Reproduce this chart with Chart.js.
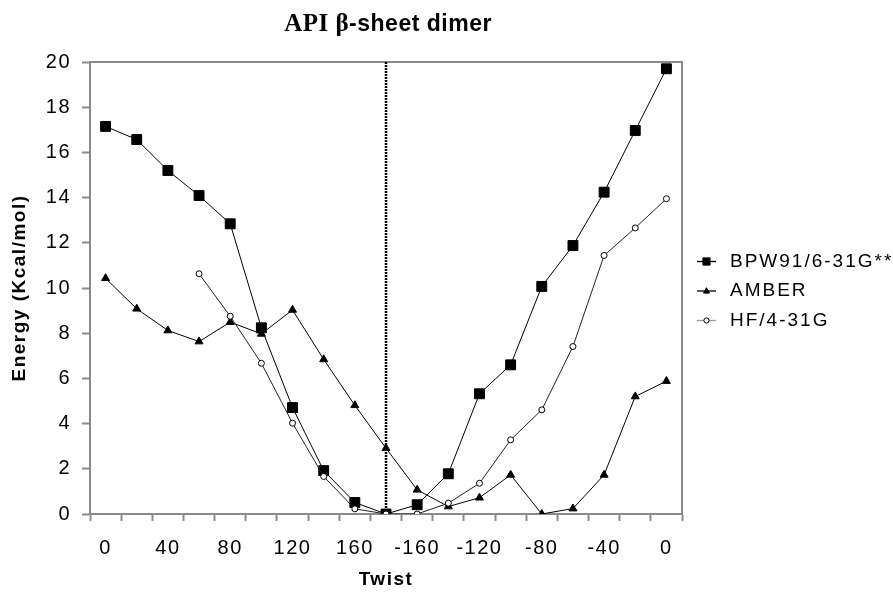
<!DOCTYPE html>
<html>
<head>
<meta charset="utf-8">
<script src="https://cdn.jsdelivr.net/npm/chart.js@4/dist/chart.umd.min.js"></script>
<style>
html,body{margin:0;padding:0;background:#fff;}
#wrap{width:893px;height:592px;position:relative;}
</style>
</head>
<body>
<div id="wrap"><canvas id="c" width="893" height="592"></canvas></div>
<script>
// ---- data ----
const twistLabels = ['0','20','40','60','80','100','120','140','160','180','-160','-140','-120','-100','-80','-60','-40','-20','0'];
const bpw91 = [17.15,16.57,15.2,14.09,12.84,8.24,4.71,1.92,0.51,0,0.41,1.78,5.32,6.6,10.07,11.88,14.24,16.97,19.7];
const amber = [10.43,9.08,8.12,7.63,8.49,7.97,9.03,6.84,4.81,2.91,1.07,0.33,0.72,1.73,0.0,0.24,1.73,5.2,5.88];
const hf431 = [null,null,null,10.63,8.75,6.67,4.02,1.66,0.23,0,0.0,0.48,1.36,3.28,4.61,7.41,11.44,12.66,13.95];
const seriesNames = ['BPW91/6-31G**','AMBER','HF/4-31G'];
const referenceIndex = 9; // dotted line at twist 180
const titleParts = ['API \u03b2', '-sheet dimer'];
const yTitle = 'Energy (Kcal/mol)';
const xTitle = 'Twist';
const yMin = 0, yMax = 20, yStep = 2;

const SANS = '"Liberation Sans", Arial, sans-serif';
const SERIF = '"Liberation Serif", "Times New Roman", serif';
const AXIS_GRAY = '#8a8a8a';
const SPACING = '1.5px';

const spacingPlugin = {
  id: 'spacing',
  beforeUpdate(chart){ chart.ctx.letterSpacing = SPACING; },
  beforeLayout(chart){ chart.ctx.letterSpacing = SPACING; },
  beforeDraw(chart){ chart.ctx.letterSpacing = SPACING; }
};

const framePlugin = {
  id: 'frame',
  beforeDatasetsDraw(chart){
    const ctx = chart.ctx, a = chart.chartArea;
    ctx.save();
    ctx.strokeStyle = AXIS_GRAY; ctx.lineWidth = 2;
    ctx.beginPath();
    ctx.moveTo(a.left, a.top); ctx.lineTo(a.right, a.top); ctx.lineTo(a.right, a.bottom);
    ctx.stroke();
    // dotted reference line
    const x = chart.scales.x.getPixelForValue(referenceIndex);
    ctx.strokeStyle = '#000'; ctx.lineWidth = 2.5; ctx.setLineDash([2,1]);
    ctx.beginPath(); ctx.moveTo(x, a.top); ctx.lineTo(x, a.bottom); ctx.stroke();
    ctx.restore();
  }
};

function drawMarker(ctx, style, x, y, r, fill, stroke){
  ctx.beginPath();
  if (style === 'rect') { ctx.rect(x - r, y - r, 2*r, 2*r); }
  else if (style === 'triangle') { ctx.moveTo(x, y - r*1.1); ctx.lineTo(x + r, y + r*0.7); ctx.lineTo(x - r, y + r*0.7); ctx.closePath(); }
  else { ctx.arc(x, y, r, 0, Math.PI*2); }
  ctx.fillStyle = fill; ctx.fill();
  ctx.strokeStyle = stroke; ctx.lineWidth = 1; ctx.stroke();
}

const legendPlugin = {
  id: 'sideLegend',
  afterDraw(chart){
    const ctx = chart.ctx, a = chart.chartArea;
    const cy = (a.top + a.bottom) / 2 + 3;
    const x0 = a.right + 15;
    const sizes = [3.6, 3, 2.6];
    ctx.save();
    chart.data.datasets.forEach((ds, i) => {
      const y = cy + (i - 1) * 29.5;
      ctx.strokeStyle = ds.legendLine || ds.borderColor; ctx.lineWidth = 1.3;
      ctx.beginPath(); ctx.moveTo(x0, y); ctx.lineTo(x0 + 19, y); ctx.stroke();
      drawMarker(ctx, ds.pointStyle, x0 + 9.5, y, sizes[i], ds.pointBackgroundColor, '#000');
      ctx.fillStyle = '#000'; ctx.font = '19px ' + SANS; ctx.letterSpacing = '2px';
      ctx.textBaseline = 'middle'; ctx.textAlign = 'left';
      ctx.fillText(ds.label, x0 + 33, y);
    });
    ctx.restore();
  }
};

const titlePlugin = {
  id: 'mixedTitle',
  afterDraw(chart){
    const ctx = chart.ctx, a = chart.chartArea;
    const fonts = ['bold 25px ' + SERIF, 'bold 23px ' + SANS];
    ctx.save();
    ctx.letterSpacing = '0.5px';
    ctx.fillStyle = '#000'; ctx.textBaseline = 'alphabetic'; ctx.textAlign = 'left';
    let widths = titleParts.map((t, i) => { ctx.font = fonts[i]; return ctx.measureText(t).width; });
    const total = widths.reduce((s, w) => s + w, 0);
    let x = (a.left + a.right) / 2 - total / 2 + 2;
    titleParts.forEach((t, i) => { ctx.font = fonts[i]; ctx.fillText(t, x, 31); x += widths[i]; });
    ctx.restore();
  }
};

new Chart(document.getElementById('c'), {
  type: 'line',
  data: {
    labels: twistLabels,
    datasets: [
      { label: seriesNames[0], data: bpw91, borderColor: '#000', borderWidth: 1,
        pointStyle: 'rect', pointRadius: 7, pointBackgroundColor: '#000', pointBorderColor: '#000', pointBorderWidth: 1, order: 3 },
      { label: seriesNames[1], data: amber, borderColor: '#000', borderWidth: 1,
        pointStyle: 'triangle', pointRadius: 4.6, pointBackgroundColor: '#000', pointBorderColor: '#000', pointBorderWidth: 1, order: 2 },
      { label: seriesNames[2], data: hf431, borderColor: '#222', borderWidth: 1, legendLine: '#999',
        pointStyle: 'circle', pointRadius: 3, pointBackgroundColor: '#fff', pointBorderColor: '#000', pointBorderWidth: 1, order: 1 }
    ]
  },
  options: {
    responsive: false,
    animation: false,
    devicePixelRatio: 1,
    layout: { padding: { top: 62, right: 211, left: 0, bottom: 0 } },
    plugins: { legend: { display: false }, title: { display: false }, tooltip: { enabled: false } },
    elements: { line: { tension: 0 } },
    scales: {
      x: {
        type: 'category',
        offset: true,
        afterFit(s){ s.height = 78; },
        border: { color: AXIS_GRAY, width: 2 },
        grid: { offset: true, drawOnChartArea: false, drawTicks: true, tickLength: 7, tickColor: AXIS_GRAY, tickWidth: 2 },
        ticks: {
          autoSkip: false, maxRotation: 0, minRotation: 0, padding: 15,
          color: '#000', font: { family: SANS, size: 20 },
          callback: (v, i) => (i % 2 === 0 ? twistLabels[i] : '')
        },
        title: { display: true, text: xTitle, color: '#000', font: { family: SANS, size: 19, weight: 'bold' }, padding: { top: 0, bottom: 1 } }
      },
      y: {
        min: yMin, max: yMax,
        afterFit(s){ s.width = 90; },
        border: { color: AXIS_GRAY, width: 2 },
        grid: { drawOnChartArea: false, drawTicks: true, tickLength: 8, tickColor: AXIS_GRAY, tickWidth: 2 },
        ticks: { stepSize: yStep, padding: 11, color: '#000', font: { family: SANS, size: 20 } },
        title: { display: true, text: yTitle, color: '#000', font: { family: SANS, size: 19, weight: 'bold' }, padding: { top: 8, bottom: 0 } }
      }
    }
  },
  plugins: [spacingPlugin, framePlugin, legendPlugin, titlePlugin]
});
</script>
</body>
</html>
